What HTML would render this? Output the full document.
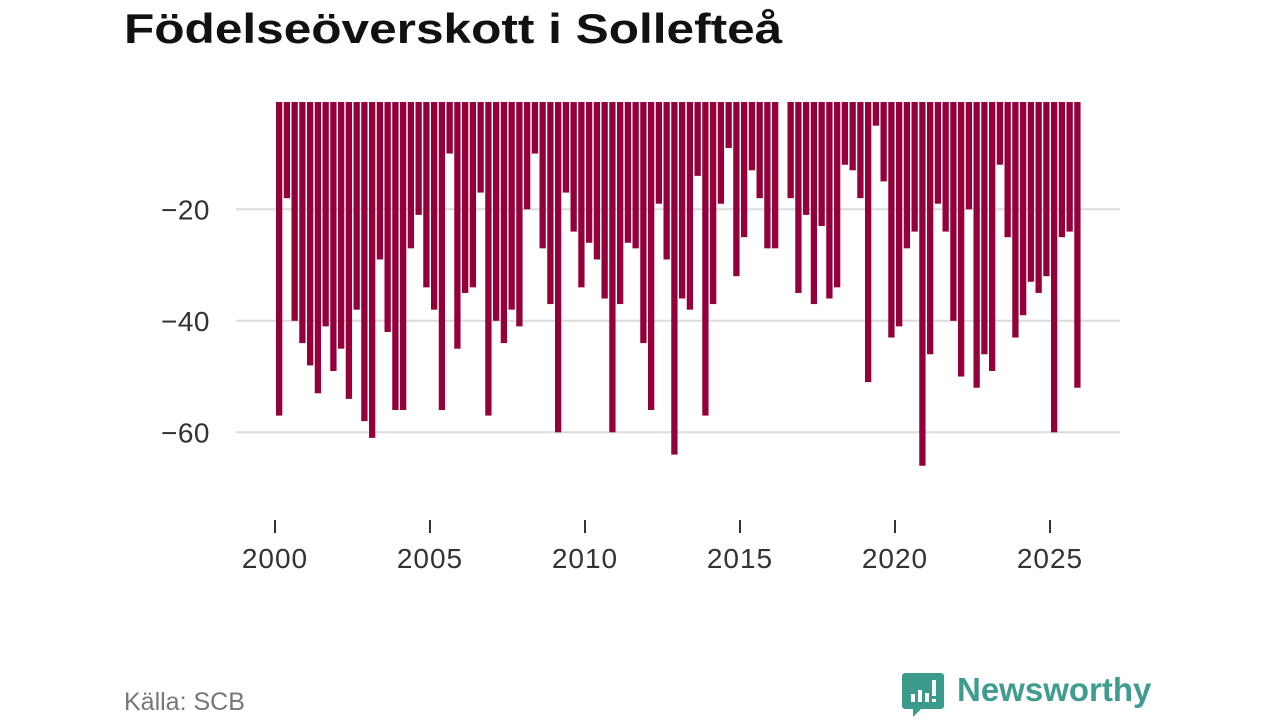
<!DOCTYPE html>
<html><head><meta charset="utf-8">
<style>
html,body{margin:0;padding:0;background:#fff;}
body{width:1280px;height:720px;position:relative;overflow:hidden;font-family:"Liberation Sans",sans-serif;}
#title{position:absolute;left:124px;top:5px;font-size:42px;font-weight:bold;color:#111;margin:0;transform:scaleX(1.18);transform-origin:left top;white-space:nowrap;}
#source{position:absolute;left:124px;top:688px;font-size:25px;color:#777;}
#logo-text{position:absolute;left:957px;top:671px;font-size:33px;font-weight:bold;color:#3f9c8f;}
svg{position:absolute;left:0;top:0;}
</style></head><body>
<h1 id="title">Födelseöverskott i Sollefteå</h1>
<svg id="chart" width="1280" height="720"></svg>
<div id="source">Källa: SCB</div>
<svg width="1280" height="720" style="pointer-events:none">
  <path d="M905 673 h36 a3 3 0 0 1 3 3 v30 a3 3 0 0 1 -3 3 h-20 l-8 8 v-8 h-8 a3 3 0 0 1 -3 -3 v-30 a3 3 0 0 1 3 -3z" fill="#3a9a8c"/>
  <rect x="911" y="694" width="4" height="8" fill="#fff"/>
  <rect x="918" y="690" width="4" height="12" fill="#fff"/>
  <rect x="925" y="693" width="4" height="9" fill="#fff"/>
  <rect x="932" y="680" width="4" height="16" fill="#fff"/>
  <rect x="932" y="699" width="4" height="3" fill="#fff"/>
</svg>
<div id="logo-text">Newsworthy</div>
<script>
const years = [2000,2001,2002,2003,2004,2005,2006,2007,2008,2009,2010,2011,2012,2013,2014,2015,2016,2017,2018,2019,2020,2021,2022,2023,2024,2025];
const quarterlyValues = [
-57,-18,-40,-44, -48,-53,-41,-49, -45,-54,-38,-58, -61,-29,-42,-56,
-56,-27,-21,-34, -38,-56,-10,-45, -35,-34,-17,-57, -40,-44,-38,-41,
-20,-10,-27,-37, -60,-17,-24,-34, -26,-29,-36,-60, -37,-26,-27,-44,
-56,-19,-29,-64, -36,-38,-14,-57, -37,-19,-9,-32, -25,-13,-18,-27,
-27,null,-18,-35, -21,-37,-23,-36, -34,-12,-13,-18, -51,-5,-15,-43,
-41,-27,-24,-66, -46,-19,-24,-40, -50,-20,-52,-46, -49,-12,-25,-43,
-39,-33,-35,-32, -60,-25,-24,-52];
const yTicks = [-20,-40,-60];
const xTicks = [2000,2005,2010,2015,2020,2025];

const NS="http://www.w3.org/2000/svg";
const svg=document.getElementById('chart');
function xScale(t){return 275+(t-2000)*31;}
function yScale(v){return 97.8-v*5.575;}
const plotTop=102;
function mk(tag,attrs){const e=document.createElementNS(NS,tag);for(const k in attrs)e.setAttribute(k,attrs[k]);svg.appendChild(e);return e;}

yTicks.forEach(v=>{
  const g=mk('line',{x1:236,x2:1120,y1:yScale(v),y2:yScale(v),stroke:'#dcdcdc','stroke-width':2});
  
  
  const t=mk('text',{x:210,y:yScale(v)+10,'text-anchor':'end','font-size':28,fill:'#333','font-family':'Liberation Sans, sans-serif','letter-spacing':0.5});
  t.textContent='\u2212'+Math.abs(v);
  
  
});
quarterlyValues.forEach((v,i)=>{
  if(v===null)return;
  const t=years[0]+i/4;
  const r=mk('rect',{x:xScale(t)+1,y:plotTop,width:6.3,height:Math.max(0,yScale(v)-plotTop),fill:'#94003a'});
  
  
});
xTicks.forEach(y=>{
  const l=mk('line',{x1:xScale(y),x2:xScale(y),y1:520,y2:533,stroke:'#333','stroke-width':2});
  
  
  const t=mk('text',{x:xScale(y),y:568,'text-anchor':'middle','font-size':28,fill:'#333','font-family':'Liberation Sans, sans-serif','letter-spacing':1});
  t.textContent=y;
  
  
});
</script>
</body></html>
